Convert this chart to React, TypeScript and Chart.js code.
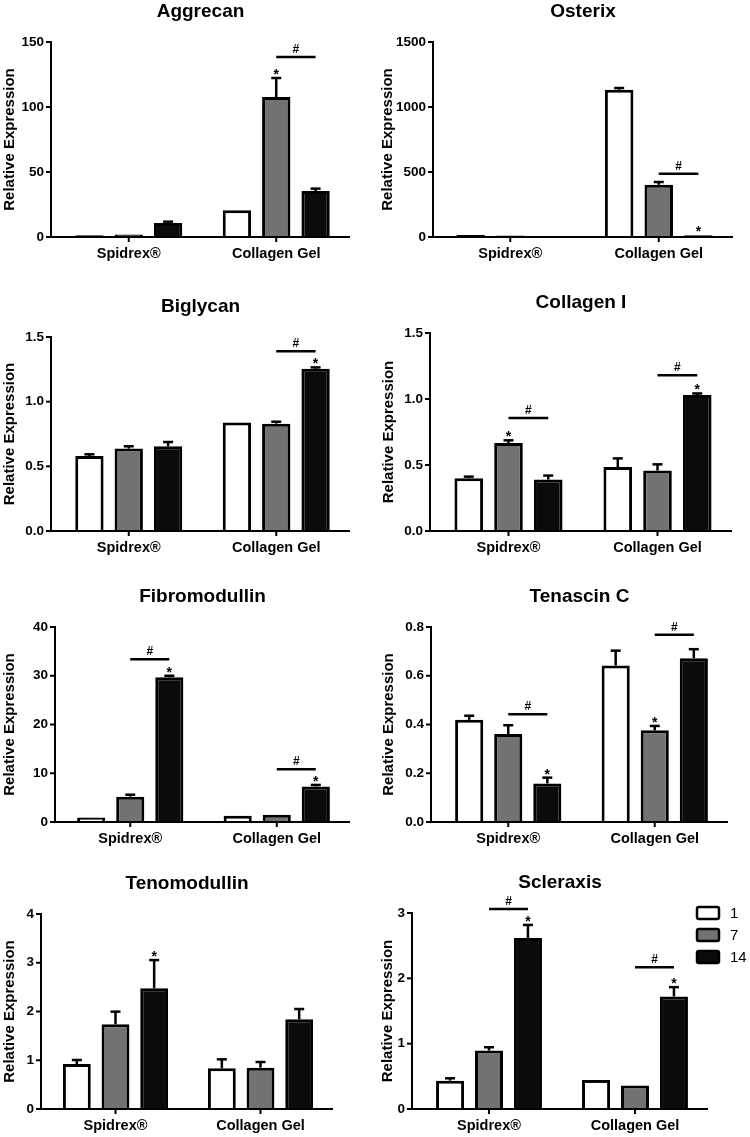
import React, { useEffect, useRef } from "react";
import { Chart, registerables } from "chart.js";
Chart.register(...registerables);

const FONT = "'Liberation Sans', Arial, Helvetica, sans-serif";

const categories = ["Spidrex®", "Collagen Gel"];
const dayLabels = ["1", "7", "14"];
const dayFills = ["#ffffff", "#727272", "#0b0b0b"];

// values per culture day: [Spidrex®, Collagen Gel]
const aggrecanDay1 = [1.3, 20.5];
const aggrecanDay7 = [2.0, 107.7];
const aggrecanDay14 = [10.8, 35.4];
const aggrecanSem1 = [0.3, 0.6];
const aggrecanSem7 = [0.5, 14.6];
const aggrecanSem14 = [1.0, 1.8];

const osterixDay1 = [16, 1133];
const osterixDay7 = [12, 402];
const osterixDay14 = [0, 14];
const osterixSem1 = [3, 13];
const osterixSem7 = [2, 21];
const osterixSem14 = [0, 2];

const biglycanDay1 = [0.58, 0.838];
const biglycanDay7 = [0.637, 0.83];
const biglycanDay14 = [0.655, 1.255];
const biglycanSem1 = [0.013, 0.006];
const biglycanSem7 = [0.018, 0.015];
const biglycanSem14 = [0.033, 0.01];

const collagenIDay1 = [0.4, 0.485];
const collagenIDay7 = [0.667, 0.458];
const collagenIDay14 = [0.39, 1.03];
const collagenISem1 = [0.012, 0.065];
const collagenISem7 = [0.02, 0.047];
const collagenISem14 = [0.03, 0.012];

const fibromodullinDay1 = [0.9, 1.3];
const fibromodullinDay7 = [5.2, 1.5];
const fibromodullinDay14 = [29.7, 7.3];
const fibromodullinSem1 = [0.15, 0.15];
const fibromodullinSem7 = [0.4, 0.15];
const fibromodullinSem14 = [0.3, 0.3];

const tenascinDay1 = [0.419, 0.642];
const tenascinDay7 = [0.361, 0.376];
const tenascinDay14 = [0.158, 0.672];
const tenascinSem1 = [0.017, 0.061];
const tenascinSem7 = [0.036, 0.018];
const tenascinSem14 = [0.024, 0.037];

const tenomodullinDay1 = [0.923, 0.834];
const tenomodullinDay7 = [1.737, 0.848];
const tenomodullinDay14 = [2.475, 1.839];
const tenomodullinSem1 = [0.082, 0.185];
const tenomodullinSem7 = [0.26, 0.116];
const tenomodullinSem14 = [0.58, 0.212];

const scleraxisDay1 = [0.434, 0.445];
const scleraxisDay7 = [0.894, 0.358];
const scleraxisDay14 = [2.617, 1.722];
const scleraxisSem1 = [0.036, 0.01];
const scleraxisSem7 = [0.051, 0.005];
const scleraxisSem14 = [0.2, 0.143];

// significance: stars [dayIndex, categoryIndex]; hashes [categoryIndex, fromDay, toDay, yValue]
const aggrecanStars = [[1, 1]];
const aggrecanHashes = [[1, 1, 2, 138.5]];
const osterixStars = [[2, 1]];
const osterixHashes = [[1, 1, 2, 487]];
const biglycanStars = [[2, 1]];
const biglycanHashes = [[1, 1, 2, 1.39]];
const collagenIStars = [[1, 0], [2, 1]];
const collagenIHashes = [[0, 1, 2, 0.856], [1, 1, 2, 1.18]];
const fibromodullinStars = [[2, 0], [2, 1]];
const fibromodullinHashes = [[0, 1, 2, 33.4], [1, 1, 2, 10.8]];
const tenascinStars = [[2, 0], [1, 1]];
const tenascinHashes = [[0, 1, 2, 0.442], [1, 1, 2, 0.768]];
const tenomodullinStars = [[2, 0]];
const tenomodullinHashes: number[][] = [];
const scleraxisStars = [[2, 0], [2, 1]];
const scleraxisHashes = [[0, 1, 2, 3.06], [1, 1, 2, 2.17]];

type Box = { x: number; y: number; w: number; h: number; axisX: number; catLeft: number; right: number; top: number; bottom: number };
type Panel = {
  title: string;
  means: number[][];
  sems: number[][];
  yMax: number;
  yStep: number;
  decimals: number;
  stars: number[][];
  hashes: number[][];
  legend?: boolean;
  titlePad: number;
  box: Box;
};

const panels: Panel[] = [
  {
    title: "Aggrecan", means: [aggrecanDay1, aggrecanDay7, aggrecanDay14], sems: [aggrecanSem1, aggrecanSem7, aggrecanSem14],
    yMax: 150, yStep: 50, decimals: 0, stars: aggrecanStars, hashes: aggrecanHashes, titlePad: 1,
    box: { x: 0, y: 0, w: 375, h: 280, axisX: 51, catLeft: 55, right: 350, top: 42, bottom: 237 },
  },
  {
    title: "Osterix", means: [osterixDay1, osterixDay7, osterixDay14], sems: [osterixSem1, osterixSem7, osterixSem14],
    yMax: 1500, yStep: 500, decimals: 0, stars: osterixStars, hashes: osterixHashes, titlePad: 4,
    box: { x: 375, y: 0, w: 375, h: 280, axisX: 433, catLeft: 436, right: 733, top: 42, bottom: 237 },
  },
  {
    title: "Biglycan", means: [biglycanDay1, biglycanDay7, biglycanDay14], sems: [biglycanSem1, biglycanSem7, biglycanSem14],
    yMax: 1.5, yStep: 0.5, decimals: 1, stars: biglycanStars, hashes: biglycanHashes, titlePad: 1,
    box: { x: 0, y: 280, w: 375, h: 290, axisX: 51, catLeft: 55, right: 350, top: 337, bottom: 531 },
  },
  {
    title: "Collagen I", means: [collagenIDay1, collagenIDay7, collagenIDay14], sems: [collagenISem1, collagenISem7, collagenISem14],
    yMax: 1.5, yStep: 0.5, decimals: 1, stars: collagenIStars, hashes: collagenIHashes, titlePad: 5,
    box: { x: 375, y: 280, w: 375, h: 290, axisX: 430, catLeft: 434, right: 732, top: 333, bottom: 531 },
  },
  {
    title: "Fibromodullin", means: [fibromodullinDay1, fibromodullinDay7, fibromodullinDay14], sems: [fibromodullinSem1, fibromodullinSem7, fibromodullinSem14],
    yMax: 40, yStep: 10, decimals: 0, stars: fibromodullinStars, hashes: fibromodullinHashes, titlePad: 1,
    box: { x: 0, y: 570, w: 375, h: 285, axisX: 55, catLeft: 57, right: 350, top: 627, bottom: 822 },
  },
  {
    title: "Tenascin C", means: [tenascinDay1, tenascinDay7, tenascinDay14], sems: [tenascinSem1, tenascinSem7, tenascinSem14],
    yMax: 0.8, yStep: 0.2, decimals: 1, stars: tenascinStars, hashes: tenascinHashes, titlePad: 5,
    box: { x: 375, y: 570, w: 375, h: 285, axisX: 431, catLeft: 435, right: 728, top: 627, bottom: 822 },
  },
  {
    title: "Tenomodullin", means: [tenomodullinDay1, tenomodullinDay7, tenomodullinDay14], sems: [tenomodullinSem1, tenomodullinSem7, tenomodullinSem14],
    yMax: 4, yStep: 1, decimals: 0, stars: tenomodullinStars, hashes: tenomodullinHashes, titlePad: 1,
    box: { x: 0, y: 855, w: 375, h: 282, axisX: 41, catLeft: 43, right: 333, top: 914, bottom: 1109 },
  },
  {
    title: "Scleraxis", means: [scleraxisDay1, scleraxisDay7, scleraxisDay14], sems: [scleraxisSem1, scleraxisSem7, scleraxisSem14],
    yMax: 3, yStep: 1, decimals: 0, stars: scleraxisStars, hashes: scleraxisHashes, legend: true, titlePad: 4,
    box: { x: 375, y: 855, w: 375, h: 282, axisX: 412, catLeft: 416, right: 708, top: 913, bottom: 1109 },
  },
];

function PanelChart({ p }: { p: Panel }) {
  const ref = useRef<HTMLCanvasElement>(null);
  const b = p.box;
  useEffect(() => {
    const gap = b.catLeft - b.axisX;
    const line = (ctx: CanvasRenderingContext2D, x1: number, y1: number, x2: number, y2: number) => {
      ctx.beginPath();
      ctx.moveTo(x1, y1);
      ctx.lineTo(x2, y2);
      ctx.stroke();
    };
    const decor = {
      id: "panelDecor",
      afterDatasetsDraw(chart: any) {
        const { ctx, chartArea: ca } = chart;
        const xs = chart.scales.x;
        const ys = chart.scales.y;
        ctx.save();
        ctx.strokeStyle = "#000";
        ctx.fillStyle = "#000";
        ctx.lineCap = "butt";
        // error bars
        ctx.lineWidth = 2.5;
        p.means.forEach((m, d) => {
          const meta = chart.getDatasetMeta(d);
          m.forEach((v, c) => {
            const el = meta.data[c];
            const base = ys.getPixelForValue(v);
            const top = ys.getPixelForValue(v + p.sems[d][c]);
            if (base - top < 0.8) return;
            line(ctx, el.x, base, el.x, top);
            line(ctx, el.x - 5, top, el.x + 5, top);
          });
        });
        // axes
        const ax = ca.left - gap;
        ctx.lineWidth = 2;
        ctx.beginPath();
        ctx.moveTo(ax, ca.top - 1);
        ctx.lineTo(ax, ca.bottom);
        ctx.lineTo(ca.right, ca.bottom);
        ctx.stroke();
        ys.ticks.forEach((t: any) => {
          const py = ys.getPixelForValue(t.value);
          line(ctx, ax - 5, py, ax, py);
        });
        categories.forEach((_, i) => {
          const px = xs.getPixelForValue(i);
          line(ctx, px, ca.bottom, px, ca.bottom + 5);
        });
        // stars
        ctx.textAlign = "center";
        ctx.textBaseline = "alphabetic";
        ctx.font = `bold 14px ${FONT}`;
        p.stars.forEach(([d, c]) => {
          const el = chart.getDatasetMeta(d).data[c];
          const top = ys.getPixelForValue(p.means[d][c] + p.sems[d][c]);
          ctx.fillText("*", el.x, top + 1);
        });
        // hash bars
        p.hashes.forEach(([c, d1, d2, hv]) => {
          const e1 = chart.getDatasetMeta(d1).data[c];
          const e2 = chart.getDatasetMeta(d2).data[c];
          const py = ys.getPixelForValue(hv);
          ctx.lineWidth = 2.5;
          line(ctx, e1.x, py, e2.x, py);
          ctx.font = `bold 12px ${FONT}`;
          ctx.fillText("#", (e1.x + e2.x) / 2, py - 4);
        });
        // title
        ctx.font = `bold 19px ${FONT}`;
        ctx.textBaseline = "middle";
        ctx.fillText(p.title, (ax + ca.right) / 2, ca.top - 30);
        // legend
        if (p.legend) {
          chart.data.datasets.forEach((ds: any, d: number) => {
            const cy = ca.top + d * 22;
            ctx.fillStyle = ds.backgroundColor;
            ctx.lineWidth = 2.5;
            ctx.beginPath();
            ctx.roundRect(ca.right - 11, cy - 6, 22, 12, 2);
            ctx.fill();
            ctx.stroke();
            ctx.fillStyle = "#000";
            ctx.font = `15px ${FONT}`;
            ctx.textAlign = "left";
            ctx.fillText(ds.label, ca.right + 22, cy + 1);
          });
        }
        ctx.restore();
      },
    };
    const chart = new Chart(ref.current as HTMLCanvasElement, {
      type: "bar",
      data: {
        labels: categories,
        datasets: p.means.map((m, d) => ({
          label: dayLabels[d],
          data: m,
          backgroundColor: dayFills[d],
          borderColor: "#000",
          borderWidth: 3,
          borderSkipped: "bottom",
          categoryPercentage: 0.8,
          barPercentage: 0.72,
        })),
      },
      options: {
        responsive: false,
        animation: false,
        devicePixelRatio: 1,
        layout: { padding: { left: 0, top: b.top - b.y, right: b.x + b.w - b.right, bottom: 0 } },
        plugins: { legend: { display: false }, tooltip: { enabled: false }, title: { display: false } },
        scales: {
          x: {
            grid: { display: false, drawTicks: false },
            border: { display: false },
            ticks: { font: { family: FONT, size: 14.5, weight: "bold" }, color: "#000", padding: 8, maxRotation: 0, autoSkip: false },
            afterFit: (s: any) => {
              s.height = b.y + b.h - b.bottom;
              s.paddingLeft = 0;
              s.paddingRight = 0;
            },
          },
          y: {
            min: 0,
            max: p.yMax,
            grid: { display: false, drawTicks: false },
            border: { display: false },
            ticks: {
              stepSize: p.yStep,
              callback: (v: any) => Number(v).toFixed(p.decimals),
              font: { family: FONT, size: 13.5, weight: "bold" },
              color: "#000",
              padding: gap + 7,
            },
            title: {
              display: true,
              text: "Relative Expression",
              font: { family: FONT, size: 15, weight: "bold" },
              color: "#000",
              padding: { top: p.titlePad, bottom: 0 },
            },
            afterFit: (s: any) => {
              s.width = b.catLeft - b.x;
              s.paddingTop = 0;
              s.paddingBottom = 0;
            },
          },
        },
      } as any,
      plugins: [decor],
    });
    return () => chart.destroy();
  }, [p]);
  return (
    <canvas
      ref={ref}
      width={b.w}
      height={b.h}
      style={{ position: "absolute", left: b.x, top: b.y, width: b.w, height: b.h }}
    />
  );
}

export default function App() {
  return (
    <div style={{ position: "absolute", left: 0, top: 0, width: 750, height: 1137, background: "#fff" }}>
      {panels.map((p) => (
        <PanelChart key={p.title} p={p} />
      ))}
    </div>
  );
}
